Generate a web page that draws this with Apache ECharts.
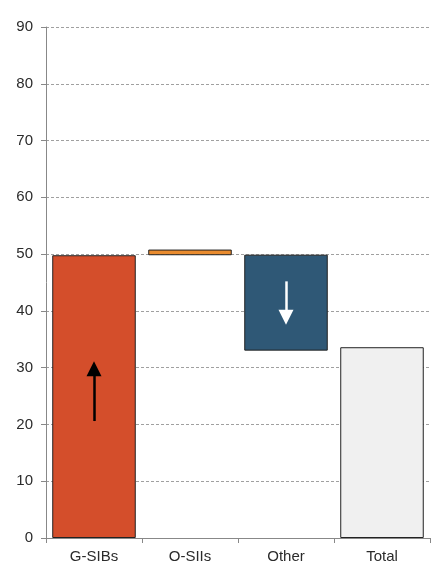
<!DOCTYPE html>
<html>
<head>
<meta charset="utf-8">
<script src="https://cdn.jsdelivr.net/npm/echarts@6/dist/echarts.min.js"></script>
<style>
  html, body { margin: 0; padding: 0; background: #fff; }
  #chart { width: 440px; height: 563px; }
</style>
</head>
<body>
<div id="chart"></div>
<script>
// Waterfall: contributions to the total
const categories = ['G-SIBs', 'O-SIIs', 'Other', 'Total'];
// invisible offset under each visible block
const baseValues = [0, 49.8, 33.0, 0];
// visible block heights
const blockValues = [49.8, 1.0, 16.9, 33.6];
const blockColors = ['#D44E2B', '#E98B2E', '#2F5876', '#F0F0F0'];
const yTicks = [0, 10, 20, 30, 40, 50, 60, 70, 80, 90];
// direction arrows: [category, from, to] (the head is centred on "to")
const arrowUp = ['G-SIBs', 20.6, 29.8];
const arrowDown = ['Other', 45.2, 38.9];

const chart = echarts.init(document.getElementById('chart'), null, { renderer: 'canvas' });

chart.setOption({
  animation: false,
  grid: { left: 46, right: 10, top: 27, bottom: 25, containLabel: false, outerBoundsMode: 'none' },
  xAxis: {
    type: 'category',
    data: categories,
    axisLine: { lineStyle: { color: '#888', width: 1 } },
    axisTick: { show: true, alignWithLabel: false, length: 5, lineStyle: { color: '#888' } },
    axisLabel: { color: '#2b2b2b', fontFamily: 'Liberation Sans', fontSize: 15, margin: 11 },
    splitLine: { show: false }
  },
  yAxis: {
    type: 'value',
    min: yTicks[0],
    max: yTicks[yTicks.length - 1],
    interval: 10,
    axisLine: { show: true, lineStyle: { color: '#888', width: 1 } },
    axisTick: { show: true, length: 5, lineStyle: { color: '#888' } },
    axisLabel: { color: '#2b2b2b', fontFamily: 'Liberation Sans', fontSize: 15, margin: 13 },
    splitLine: { show: true, lineStyle: { color: '#a0a0a0', type: [3, 2], width: 1 } }
  },
  series: [
    {
      type: 'bar',
      stack: 'wf',
      data: baseValues,
      itemStyle: { color: 'transparent', borderWidth: 0 },
      barCategoryGap: '13%',
      silent: true
    },
    {
      type: 'bar',
      stack: 'wf',
      data: blockValues.map((v, i) => ({
        value: v,
        itemStyle: { color: blockColors[i] }
      })),
      itemStyle: { borderColor: '#222', borderWidth: 1 },
      barCategoryGap: '13%',
      markLine: {
        silent: true,
        symbol: ['none', 'triangle'],
        symbolSize: [15, 15],
        label: { show: false },
        data: [
          [
            { coord: [arrowUp[0], arrowUp[1]], lineStyle: { color: '#000', width: 2.5, type: 'solid' }, itemStyle: { color: '#000' } },
            { coord: [arrowUp[0], arrowUp[2]] }
          ],
          [
            { coord: [arrowDown[0], arrowDown[1]], lineStyle: { color: '#fff', width: 2.5, type: 'solid' }, itemStyle: { color: '#fff' } },
            { coord: [arrowDown[0], arrowDown[2]] }
          ]
        ]
      }
    }
  ]
});
</script>
</body>
</html>
